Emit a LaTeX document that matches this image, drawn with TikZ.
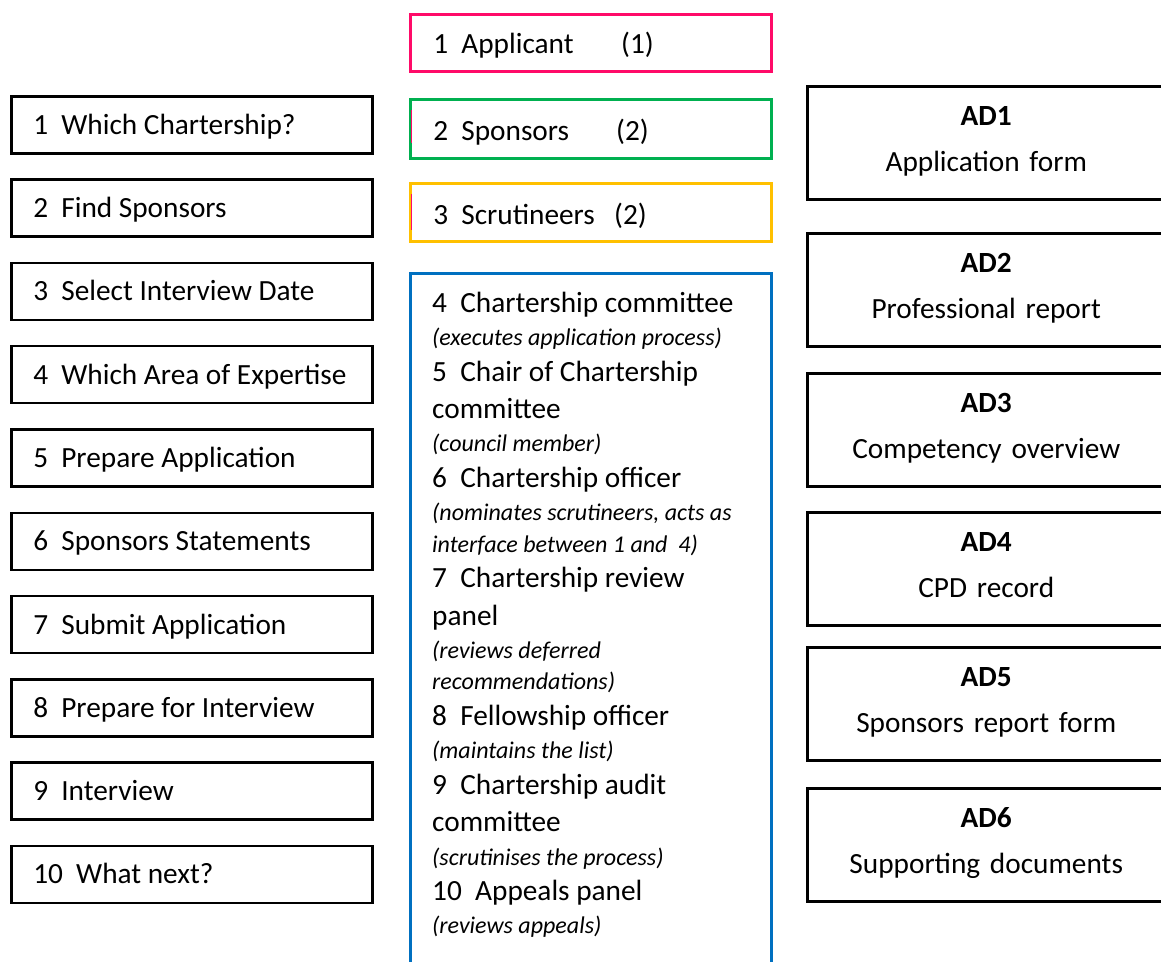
\documentclass[tikz,border=0pt]{standalone}
\usepackage{fontspec}
\setmainfont{Carlito}
\definecolor{cpink}{RGB}{255,10,104}
\definecolor{cgreen}{RGB}{0,176,80}
\definecolor{cgold}{RGB}{255,192,0}
\definecolor{cblue}{RGB}{0,112,192}
\newcommand\myleftbox[1]{\makebox[317pt][l]{#1}}
\newcommand\mymidbox[3]{\makebox[315pt][l]{\makebox[#1][l]{#2}#3}}
\newcommand\myrightbox[2]{\mbox{\textbf{#1}}\\\mbox{#2}}
\begin{document}
\begin{tikzpicture}[x=1pt,y=-1pt,
  basebox/.style={draw, line width=2.5pt, inner ysep=0pt, anchor=north west, font=\fontsize{29.3}{35}\selectfont},
  leftbox/.style={basebox, inner xsep=22pt, text height=38pt, text depth=19pt},
  midbox/.style={basebox, inner xsep=23pt},
  rightbox/.style={basebox, inner xsep=10pt, text width=338pt, align=center, text height=39pt, text depth=74pt, font=\fontsize{29.3}{46}\selectfont},
  regline/.style={anchor=base west, inner sep=0pt, font=\fontsize{29.3}{35}\selectfont},
  itline/.style={anchor=base west, inner sep=0pt, font=\fontsize{24}{28}\selectfont\itshape}
]
\useasboundingbox (0,0) rectangle (1161,961);

% left column
\node[leftbox] (s1) at (10,95) {\myleftbox{1\ \ Which Chartership?}};
\node[leftbox] (s2) at (10,178.3) {\myleftbox{2\ \ Find Sponsors}};
\node[leftbox] (s3) at (10,261.6) {\myleftbox{3\ \ Select Interview Date}};
\node[leftbox] (s4) at (10,344.9) {\myleftbox{4\ \ Which Area of Expertise}};
\node[leftbox] (s5) at (10,428.2) {\myleftbox{5\ \ Prepare Application}};
\node[leftbox] (s6) at (10,511.5) {\myleftbox{6\ \ Sponsors Statements}};
\node[leftbox] (s7) at (10,594.8) {\myleftbox{7\ \ Submit Application}};
\node[leftbox] (s8) at (10,678.1) {\myleftbox{8\ \ Prepare for Interview}};
\node[leftbox] (s9) at (10,761.4) {\myleftbox{9\ \ Interview}};
\node[leftbox] (s10) at (10,844.7) {\myleftbox{10\ \ What next?}};

% middle column
\node[midbox, draw=cpink, text height=39pt, text depth=18pt] (r1) at (409,13) {\mymidbox{188pt}{1\ \ Applicant}{(1)}};
\node[midbox, draw=cgreen, text height=41pt, text depth=18pt] (r2) at (409,98) {\mymidbox{183pt}{2\ \ Sponsors}{(2)}};
\node[midbox, draw=cgold, text height=41pt, text depth=17pt] (r3) at (409,182) {\mymidbox{181pt}{3\ \ Scrutineers}{(2)}};
\draw[cpink, line width=1pt] (411.5,110) -- (411.5,143);
\draw[cpink, line width=1pt] (411.5,194) -- (411.5,230);

\node[draw=cblue, line width=2.5pt, anchor=north west, minimum width=361pt, minimum height=720pt, inner sep=0pt] (panel) at (409,272) {};
\node[regline] (l1) at (432,312) {4\ \ Chartership committee};
\node[itline] (l2) at (432,345) {(executes application process)};
\node[regline] (l3) at (432,381) {5\ \ Chair of Chartership};
\node[regline] (l4) at (432,418) {committee};
\node[itline] (l5) at (432,451) {(council member)};
\node[regline] (l6) at (432,487) {6\ \ Chartership officer};
\node[itline] (l7) at (432,520) {(nominates scrutineers, acts as};
\node[itline] (l8) at (432,552) {interface between 1 and\ \ 4)};
\node[regline] (l9) at (432,587) {7\ \ Chartership review};
\node[regline] (l10) at (432,625) {panel};
\node[itline] (l11) at (432,658) {(reviews deferred};
\node[itline] (l12) at (432,689) {recommendations)};
\node[regline] (l13) at (432,725) {8\ \ Fellowship officer};
\node[itline] (l14) at (432,758) {(maintains the list)};
\node[regline] (l15) at (432,794) {9\ \ Chartership audit};
\node[regline] (l16) at (432,831) {committee};
\node[itline] (l17) at (432,865) {(scrutinises the process)};
\node[regline] (l18) at (432,900) {10\ \ Appeals panel};
\node[itline] (l19) at (432,933) {(reviews appeals)};

% right column
\node[rightbox] (d1) at (806,85) {\myrightbox{AD1}{Application form}};
\node[rightbox] (d2) at (806,232) {\myrightbox{AD2}{Professional report}};
\node[rightbox] (d3) at (806,372) {\myrightbox{AD3}{Competency overview}};
\node[rightbox] (d4) at (806,511) {\myrightbox{AD4}{CPD record}};
\node[rightbox] (d5) at (806,646) {\myrightbox{AD5}{Sponsors report form}};
\node[rightbox] (d6) at (806,787) {\myrightbox{AD6}{Supporting documents}};
\end{tikzpicture}
\end{document}
